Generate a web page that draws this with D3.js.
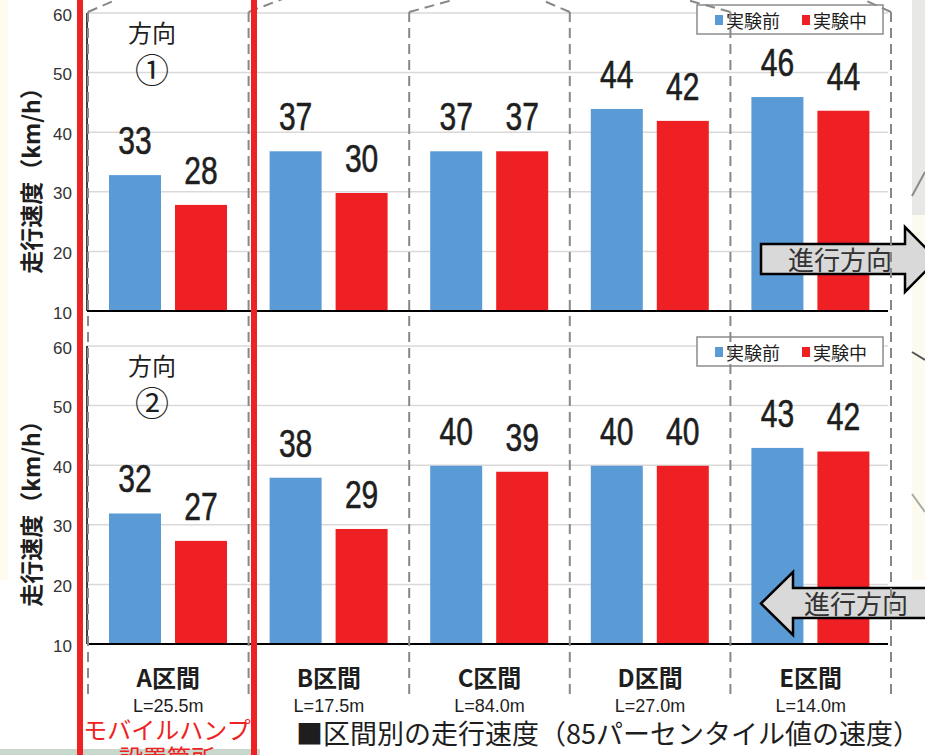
<!DOCTYPE html>
<html>
<head>
<meta charset="utf-8">
<script src="https://cdn.jsdelivr.net/npm/d3@7"></script>
<style>
  html, body { margin: 0; padding: 0; background: #ffffff; }
  svg { display: block; }
</style>
</head>
<body>
<svg id="chart" width="925" height="755"></svg>
<script>
// Section names and lengths along the road
const sections = ["A区間", "B区間", "C区間", "D区間", "E区間"];
const sectionLengths = ["L=25.5m", "L=17.5m", "L=84.0m", "L=27.0m", "L=14.0m"];
const seriesNames = ["実験前", "実験中"];

// 85th percentile speeds (km/h), direction ①
const dir1Before = [32.8, 36.8, 36.8, 43.9, 45.9];
const dir1During = [27.8, 29.8, 36.8, 41.9, 43.6];
// 85th percentile speeds (km/h), direction ②
const dir2Before = [31.9, 37.9, 39.9, 39.9, 42.9];
const dir2During = [27.3, 29.3, 38.9, 39.9, 42.3];

const yTicks = [10, 20, 30, 40, 50, 60];
const directionMarks = ["①", "②"];

const BLUE = "#5b9bd5", RED = "#ee2024", HUMP = "#ee2222";
const JP = "'Noto Sans CJK JP', 'Noto Sans', sans-serif";
const LAT = "'Liberation Sans', Arial, sans-serif";

const svg = d3.select("#chart");

// background pieces around the chart
svg.append("rect").attr("x", 0).attr("y", 0).attr("width", 8).attr("height", 580).attr("fill", "#fffcef");
svg.append("rect").attr("x", 912).attr("y", 0).attr("width", 13).attr("height", 215).attr("fill", "#e8e8e6");
svg.append("rect").attr("x", 912).attr("y", 215).attr("width", 13).attr("height", 365).attr("fill", "#fdfbef");
svg.append("path").attr("d", "M925,172 L912,196").attr("fill", "none").attr("stroke", "#8a8a8a").attr("stroke-width", 2);
svg.append("path").attr("d", "M912,352 L925,360").attr("fill", "none").attr("stroke", "#555").attr("stroke-width", 2);
svg.append("path").attr("d", "M912,494 L925,512").attr("fill", "none").attr("stroke", "#aaa").attr("stroke-width", 2);
svg.append("rect").attr("x", 0).attr("y", 749).attr("width", 260).attr("height", 6).attr("fill", "#c9d8cc");

// shared horizontal scales
const x = d3.scaleBand().domain(sections).range([88, 891]);
const xs = d3.scaleBand().domain(seriesNames).range([21, 139]).paddingInner(0.212);
const fmt = d3.format(".0f");

const panels = [
  { top: 13, bottom: 311, before: dir1Before, during: dir1During, mark: directionMarks[0], legendY: 5 },
  { top: 346, bottom: 644, before: dir2Before, during: dir2During, mark: directionMarks[1], legendY: 337 }
];

const plotLeft = 87, plotRight = 888;

panels.forEach(p => {
  const y = d3.scaleLinear().domain([10, 60]).range([p.bottom, p.top]);
  const g = svg.append("g");

  // gridlines
  g.selectAll("line.grid").data(yTicks.slice(1)).join("line")
    .attr("x1", plotLeft).attr("x2", plotRight)
    .attr("y1", d => y(d)).attr("y2", d => y(d))
    .attr("stroke", "#d9d9d9").attr("stroke-width", 1.5);

  // bars with value labels (condensed numerals)
  sections.forEach((s, i) => {
    [p.before[i], p.during[i]].forEach((v, j) => {
      const bx = x(s) + xs(seriesNames[j]);
      g.append("rect")
        .attr("x", bx).attr("width", xs.bandwidth())
        .attr("y", y(v)).attr("height", y(10) - y(v))
        .attr("fill", j === 0 ? BLUE : RED);
      g.append("text")
        .attr("transform", `translate(${bx + xs.bandwidth() / 2},${y(v) - 21}) scale(0.79,1)`)
        .attr("text-anchor", "middle")
        .attr("font-family", LAT).attr("font-size", 38).attr("fill", "#1e1e1e")
        .attr("stroke", "#1e1e1e").attr("stroke-width", 0.6)
        .text(fmt(v));
    });
  });

  // axes
  g.append("line").attr("x1", plotLeft).attr("x2", plotRight).attr("y1", y(10)).attr("y2", y(10))
    .attr("stroke", "#000").attr("stroke-width", 2);
  g.append("line").attr("x1", plotLeft).attr("x2", plotLeft).attr("y1", y(60)).attr("y2", y(10))
    .attr("stroke", "#000").attr("stroke-width", 1.5);

  g.selectAll("text.tick").data(yTicks).join("text")
    .attr("x", 72).attr("y", d => y(d) + 2)
    .attr("text-anchor", "end").attr("dominant-baseline", "central")
    .attr("font-family", LAT).attr("font-size", 17).attr("fill", "#333")
    .text(d => d);

  // axis title
  const mid = (p.top + p.bottom) / 2 + 13;
  g.append("text")
    .attr("transform", `translate(30,${mid}) rotate(-90)`)
    .attr("text-anchor", "middle").attr("dominant-baseline", "central")
    .attr("font-family", JP).attr("font-size", 23).attr("font-weight", 700).attr("fill", "#1e1e1e")
    .text("走行速度（km/h）");

  // direction caption
  g.append("text").attr("x", 152).attr("y", p.top + 29)
    .attr("text-anchor", "middle").attr("font-family", JP).attr("font-size", 24).attr("fill", "#1e1e1e")
    .text("方向");
  g.append("text").attr("x", 152).attr("y", p.top + 55)
    .attr("text-anchor", "middle").attr("dominant-baseline", "central")
    .attr("font-family", JP).attr("font-size", 34).attr("fill", "#1e1e1e")
    .text(p.mark);

  // legend
  const lg = g.append("g").attr("transform", `translate(697,${p.legendY})`);
  lg.append("rect").attr("width", 186).attr("height", 29).attr("fill", "#fff")
    .attr("stroke", "#8c8c8c").attr("stroke-width", 1.5);
  seriesNames.forEach((n, j) => {
    const ox = j === 0 ? 18 : 105;
    lg.append("rect").attr("x", ox).attr("y", 10).attr("width", 8).attr("height", 10)
      .attr("fill", j === 0 ? BLUE : RED);
    lg.append("text").attr("x", ox + 11).attr("y", 15)
      .attr("dominant-baseline", "central")
      .attr("font-family", JP).attr("font-size", 18).attr("fill", "#1e1e1e")
      .text(n);
  });
});

// direction arrows
svg.append("path")
  .attr("d", "M761,244 L905,244 L905,227 L937,259.5 L905,292 L905,274 L761,274 Z")
  .attr("fill", "#d9d9d9").attr("stroke", "#000").attr("stroke-width", 2.5).attr("stroke-linejoin", "miter");
svg.append("text").attr("x", 840).attr("y", 270).attr("text-anchor", "middle")
  .attr("font-family", JP).attr("font-size", 26).attr("fill", "#333").text("進行方向");

svg.append("path")
  .attr("d", "M940,588 L793,588 L793,572 L761,603.5 L793,635 L793,618 L940,618 Z")
  .attr("fill", "#d9d9d9").attr("stroke", "#000").attr("stroke-width", 2.5).attr("stroke-linejoin", "miter");
svg.append("text").attr("x", 856).attr("y", 614).attr("text-anchor", "middle")
  .attr("font-family", JP).attr("font-size", 26).attr("fill", "#333").text("進行方向");

// section boundaries (dashed), with leader lines running off the top
const bounds = x.domain().map(d => x(d)).concat([x.range()[1]]);
const leaderEnds = [120, 285, 460, 537, 680, 860];
bounds.forEach((bx, i) => {
  svg.append("line").attr("x1", bx).attr("x2", bx).attr("y1", 12).attr("y2", 694)
    .attr("stroke", "#888").attr("stroke-width", 2).attr("stroke-dasharray", "10,6");
  svg.append("line").attr("x1", bx).attr("y1", 12).attr("x2", leaderEnds[i]).attr("y2", -2)
    .attr("stroke", "#888").attr("stroke-width", 2).attr("stroke-dasharray", "10,6");
});

// hump location markers
[80, 254].forEach(hx => {
  svg.append("line").attr("x1", hx).attr("x2", hx).attr("y1", 0).attr("y2", 755)
    .attr("stroke", HUMP).attr("stroke-width", 6);
});

// section labels
sections.forEach((s, i) => {
  const cx = x(s) + x.bandwidth() / 2;
  svg.append("text").attr("x", cx).attr("y", 687).attr("text-anchor", "middle")
    .attr("font-family", JP).attr("font-size", 24).attr("font-weight", 700).attr("fill", "#1e1e1e")
    .text(s);
  svg.append("text").attr("x", cx).attr("y", 712).attr("text-anchor", "middle")
    .attr("font-family", LAT).attr("font-size", 18).attr("fill", "#1e1e1e")
    .text(sectionLengths[i]);
});

// hump caption (second line runs past the bottom edge)
svg.append("text").attr("x", 167).attr("y", 739).attr("text-anchor", "middle")
  .attr("font-family", JP).attr("font-size", 24).attr("fill", HUMP).text("モバイルハンプ");
svg.append("text").attr("x", 167).attr("y", 767).attr("text-anchor", "middle")
  .attr("font-family", JP).attr("font-size", 24).attr("fill", HUMP).text("設置箇所");

// chart title
svg.append("text").attr("x", 296).attr("y", 744)
  .attr("font-family", JP).attr("font-size", 27).attr("fill", "#1e1e1e")
  .text("■区間別の走行速度（85パーセンタイル値の速度）");
</script>
</body>
</html>
